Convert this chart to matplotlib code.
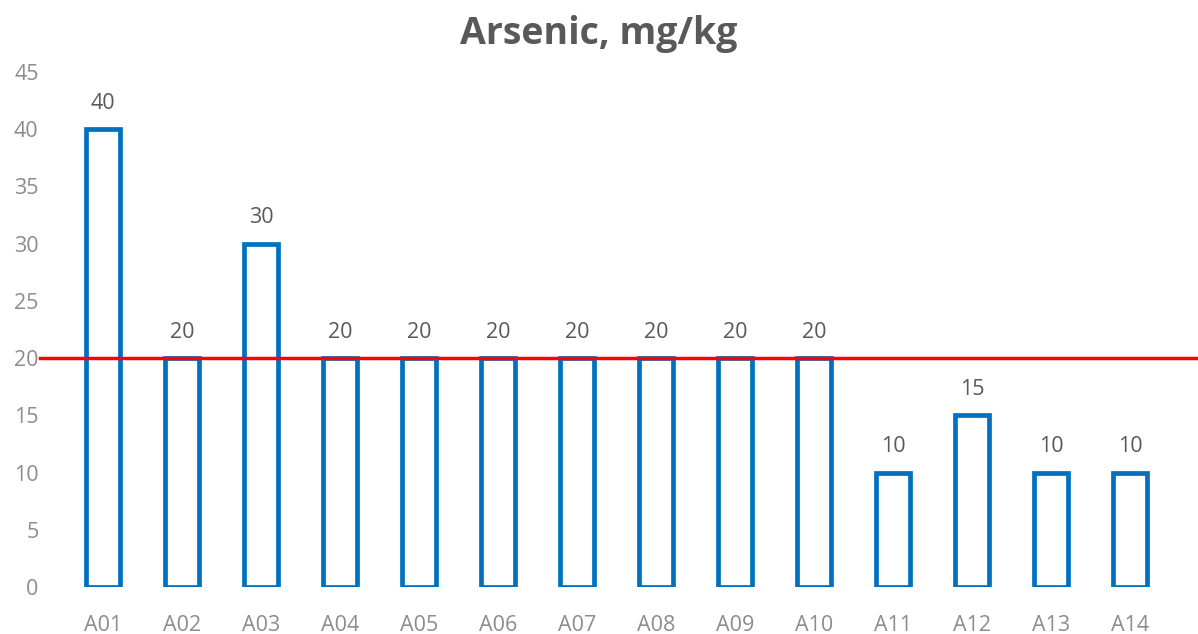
import matplotlib.pyplot as plt

# Arsenic concentrations per sample
samples = ['A01', 'A02', 'A03', 'A04', 'A05', 'A06', 'A07',
           'A08', 'A09', 'A10', 'A11', 'A12', 'A13', 'A14']
arsenic = [40, 20, 30, 20, 20, 20, 20, 20, 20, 20, 10, 15, 10, 10]
limit = 20
y_ticks = list(range(0, 50, 5))

plt.rcParams['font.family'] = ['Open Sans', 'DejaVu Sans']

W, H = 1198, 634
fig = plt.figure(figsize=(W / 100, H / 100), dpi=100)
left, right, bottom, top = 63.5, 1169.5, 587, 72
ax = fig.add_axes([left / W, (H - bottom) / H, (right - left) / W, (bottom - top) / H])

x = range(len(samples))
ax.bar(x, arsenic, width=0.43, facecolor='white', edgecolor='#0070C0', linewidth=3.4)

for xi, v in zip(x, arsenic):
    ax.annotate(str(v), (xi, v), xytext=(0, 11), textcoords='offset points',
                ha='center', va='bottom', fontsize=15.5, color='#595959')

# limit line, a bit wider than the plot area
ax.plot([(40 - left) / (right - left), (W - left) / (right - left)], [limit, limit],
        color='red', linewidth=2.5, transform=ax.get_yaxis_transform(), clip_on=False, zorder=3)

ax.set_xlim(-0.5, len(samples) - 0.5)
ax.set_ylim(0, 45)
ax.set_yticks(y_ticks)
ax.set_xticks(list(x))
ax.set_xticklabels(samples)
ax.tick_params(length=0, labelsize=15.5, labelcolor='#8c8c8c')
ax.tick_params(axis='y', pad=18)
ax.tick_params(axis='x', pad=20)
for s in ax.spines.values():
    s.set_visible(False)

fig.text(0.5, 1 - 34 / H, 'Arsenic, mg/kg', ha='center', va='center',
         fontsize=27, fontweight='bold', color='#595959')

fig.savefig('out.png', dpi=100)
